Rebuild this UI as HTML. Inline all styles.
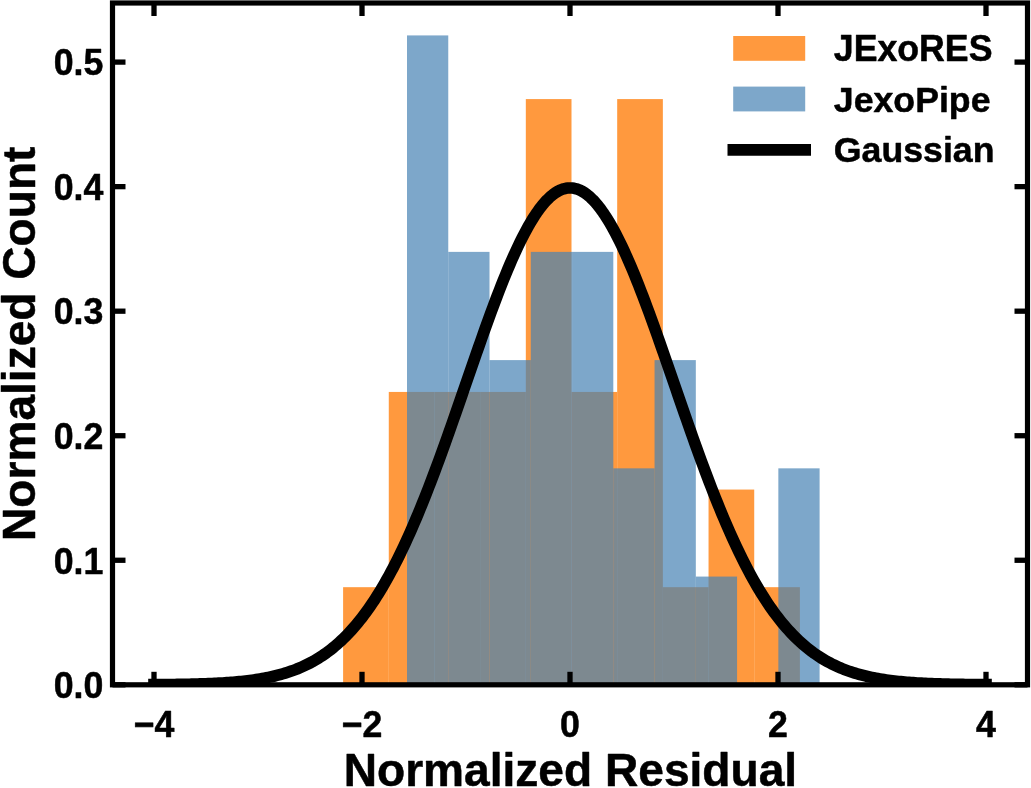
<!DOCTYPE html>
<html lang="en"><head><meta charset="utf-8"><title>Normalized Residual Histogram</title>
<style>html,body{margin:0;padding:0;background:#fff}body{width:1031px;height:788px;overflow:hidden}svg{display:block}text{font-family:"Liberation Sans",Arial,Helvetica,sans-serif;font-weight:bold;fill:#000;stroke:#000;stroke-width:0.5px;stroke-linejoin:round}</style>
</head><body>
<svg width="1031" height="788" viewBox="0 0 1031 788">
<rect width="1031" height="788" fill="#fff"/>
<defs><clipPath id="ax"><rect x="112.50" y="3.00" width="915.00" height="681.80"/></clipPath></defs>
<g clip-path="url(#ax)">
<g fill="#ff7f0e" fill-opacity="0.8">
<rect x="343.10" y="587.18" width="45.68" height="97.62"/>
<rect x="388.78" y="391.94" width="45.68" height="292.86"/>
<rect x="434.46" y="391.94" width="45.68" height="292.86"/>
<rect x="480.14" y="391.94" width="45.68" height="292.86"/>
<rect x="525.82" y="99.08" width="45.68" height="585.72"/>
<rect x="571.50" y="391.94" width="45.68" height="292.86"/>
<rect x="617.18" y="99.08" width="45.68" height="585.72"/>
<rect x="662.86" y="587.18" width="45.68" height="97.62"/>
<rect x="708.54" y="489.56" width="45.68" height="195.24"/>
<rect x="754.22" y="587.18" width="45.68" height="97.62"/>
</g>
<g fill="#4682b4" fill-opacity="0.7">
<rect x="407.00" y="35.42" width="41.26" height="649.38"/>
<rect x="448.26" y="251.88" width="41.26" height="432.92"/>
<rect x="489.52" y="360.11" width="41.26" height="324.69"/>
<rect x="530.78" y="251.88" width="41.26" height="432.92"/>
<rect x="572.04" y="251.88" width="41.26" height="432.92"/>
<rect x="613.30" y="468.34" width="41.26" height="216.46"/>
<rect x="654.56" y="360.11" width="41.26" height="324.69"/>
<rect x="695.82" y="576.57" width="41.26" height="108.23"/>
<rect x="778.34" y="468.34" width="41.26" height="216.46"/>
</g>
<polyline points="154.00,684.63 156.08,684.62 158.16,684.60 160.24,684.59 162.32,684.57 164.40,684.55 166.48,684.53 168.56,684.51 170.64,684.49 172.72,684.46 174.80,684.44 176.88,684.41 178.96,684.38 181.04,684.34 183.12,684.31 185.20,684.27 187.28,684.23 189.36,684.19 191.44,684.14 193.52,684.09 195.60,684.04 197.68,683.98 199.76,683.92 201.84,683.86 203.92,683.79 206.00,683.71 208.08,683.63 210.16,683.55 212.24,683.46 214.32,683.37 216.40,683.27 218.48,683.16 220.56,683.04 222.64,682.92 224.72,682.79 226.80,682.65 228.88,682.51 230.96,682.35 233.04,682.19 235.12,682.02 237.20,681.83 239.28,681.64 241.36,681.43 243.44,681.21 245.52,680.98 247.60,680.73 249.68,680.47 251.76,680.20 253.84,679.91 255.92,679.60 258.00,679.28 260.08,678.94 262.16,678.58 264.24,678.20 266.32,677.81 268.40,677.39 270.48,676.95 272.56,676.48 274.64,675.99 276.72,675.48 278.80,674.94 280.88,674.38 282.96,673.78 285.04,673.16 287.12,672.51 289.20,671.82 291.28,671.10 293.36,670.35 295.44,669.57 297.52,668.74 299.60,667.88 301.68,666.98 303.76,666.04 305.84,665.06 307.92,664.04 310.00,662.97 312.08,661.86 314.16,660.69 316.24,659.48 318.32,658.22 320.40,656.91 322.48,655.54 324.56,654.12 326.64,652.65 328.72,651.11 330.80,649.52 332.88,647.87 334.96,646.15 337.04,644.37 339.12,642.53 341.20,640.62 343.28,638.64 345.36,636.59 347.44,634.48 349.52,632.29 351.60,630.02 353.68,627.68 355.76,625.27 357.84,622.78 359.92,620.21 362.00,617.56 364.08,614.83 366.16,612.02 368.24,609.12 370.32,606.14 372.40,603.08 374.48,599.93 376.56,596.70 378.64,593.38 380.72,589.97 382.80,586.48 384.88,582.89 386.96,579.22 389.04,575.46 391.12,571.61 393.20,567.67 395.28,563.64 397.36,559.53 399.44,555.33 401.52,551.04 403.60,546.66 405.68,542.20 407.76,537.65 409.84,533.01 411.92,528.30 414.00,523.50 416.08,518.62 418.16,513.66 420.24,508.63 422.32,503.51 424.40,498.33 426.48,493.07 428.56,487.75 430.64,482.35 432.72,476.90 434.80,471.38 436.88,465.80 438.96,460.17 441.04,454.48 443.12,448.74 445.20,442.96 447.28,437.14 449.36,431.27 451.44,425.37 453.52,419.44 455.60,413.49 457.68,407.51 459.76,401.51 461.84,395.50 463.92,389.48 466.00,383.45 468.08,377.42 470.16,371.40 472.24,365.39 474.32,359.39 476.40,353.42 478.48,347.47 480.56,341.55 482.64,335.66 484.72,329.82 486.80,324.02 488.88,318.27 490.96,312.58 493.04,306.96 495.12,301.40 497.20,295.92 499.28,290.52 501.36,285.20 503.44,279.97 505.52,274.83 507.60,269.80 509.68,264.88 511.76,260.06 513.84,255.36 515.92,250.79 518.00,246.34 520.08,242.02 522.16,237.84 524.24,233.80 526.32,229.90 528.40,226.16 530.48,222.56 532.56,219.13 534.64,215.86 536.72,212.76 538.80,209.82 540.88,207.06 542.96,204.47 545.04,202.06 547.12,199.84 549.20,197.80 551.28,195.94 553.36,194.28 555.44,192.80 557.52,191.52 559.60,190.44 561.68,189.54 563.76,188.85 565.84,188.35 567.92,188.06 570.00,187.96 572.08,188.06 574.16,188.35 576.24,188.85 578.32,189.54 580.40,190.44 582.48,191.52 584.56,192.80 586.64,194.28 588.72,195.94 590.80,197.80 592.88,199.84 594.96,202.06 597.04,204.47 599.12,207.06 601.20,209.82 603.28,212.76 605.36,215.86 607.44,219.13 609.52,222.56 611.60,226.16 613.68,229.90 615.76,233.80 617.84,237.84 619.92,242.02 622.00,246.34 624.08,250.79 626.16,255.36 628.24,260.06 630.32,264.88 632.40,269.80 634.48,274.83 636.56,279.97 638.64,285.20 640.72,290.52 642.80,295.92 644.88,301.40 646.96,306.96 649.04,312.58 651.12,318.27 653.20,324.02 655.28,329.82 657.36,335.66 659.44,341.55 661.52,347.47 663.60,353.42 665.68,359.39 667.76,365.39 669.84,371.40 671.92,377.42 674.00,383.45 676.08,389.48 678.16,395.50 680.24,401.51 682.32,407.51 684.40,413.49 686.48,419.44 688.56,425.37 690.64,431.27 692.72,437.14 694.80,442.96 696.88,448.74 698.96,454.48 701.04,460.17 703.12,465.80 705.20,471.38 707.28,476.90 709.36,482.35 711.44,487.75 713.52,493.07 715.60,498.33 717.68,503.51 719.76,508.63 721.84,513.66 723.92,518.62 726.00,523.50 728.08,528.30 730.16,533.01 732.24,537.65 734.32,542.20 736.40,546.66 738.48,551.04 740.56,555.33 742.64,559.53 744.72,563.64 746.80,567.67 748.88,571.61 750.96,575.46 753.04,579.22 755.12,582.89 757.20,586.48 759.28,589.97 761.36,593.38 763.44,596.70 765.52,599.93 767.60,603.08 769.68,606.14 771.76,609.12 773.84,612.02 775.92,614.83 778.00,617.56 780.08,620.21 782.16,622.78 784.24,625.27 786.32,627.68 788.40,630.02 790.48,632.29 792.56,634.48 794.64,636.59 796.72,638.64 798.80,640.62 800.88,642.53 802.96,644.37 805.04,646.15 807.12,647.87 809.20,649.52 811.28,651.11 813.36,652.65 815.44,654.12 817.52,655.54 819.60,656.91 821.68,658.22 823.76,659.48 825.84,660.69 827.92,661.86 830.00,662.97 832.08,664.04 834.16,665.06 836.24,666.04 838.32,666.98 840.40,667.88 842.48,668.74 844.56,669.57 846.64,670.35 848.72,671.10 850.80,671.82 852.88,672.51 854.96,673.16 857.04,673.78 859.12,674.38 861.20,674.94 863.28,675.48 865.36,675.99 867.44,676.48 869.52,676.95 871.60,677.39 873.68,677.81 875.76,678.20 877.84,678.58 879.92,678.94 882.00,679.28 884.08,679.60 886.16,679.91 888.24,680.20 890.32,680.47 892.40,680.73 894.48,680.98 896.56,681.21 898.64,681.43 900.72,681.64 902.80,681.83 904.88,682.02 906.96,682.19 909.04,682.35 911.12,682.51 913.20,682.65 915.28,682.79 917.36,682.92 919.44,683.04 921.52,683.16 923.60,683.27 925.68,683.37 927.76,683.46 929.84,683.55 931.92,683.63 934.00,683.71 936.08,683.79 938.16,683.86 940.24,683.92 942.32,683.98 944.40,684.04 946.48,684.09 948.56,684.14 950.64,684.19 952.72,684.23 954.80,684.27 956.88,684.31 958.96,684.34 961.04,684.38 963.12,684.41 965.20,684.44 967.28,684.46 969.36,684.49 971.44,684.51 973.52,684.53 975.60,684.55 977.68,684.57 979.76,684.59 981.84,684.60 983.92,684.62 986.00,684.63" fill="none" stroke="#000" stroke-width="11.6" stroke-linecap="square" stroke-linejoin="round"/>
</g>
<g stroke="#000" stroke-width="5.30" stroke-linecap="butt">
<line x1="154.00" y1="684.80" x2="154.00" y2="671.80"/>
<line x1="154.00" y1="3.00" x2="154.00" y2="16.00"/>
<line x1="362.00" y1="684.80" x2="362.00" y2="671.80"/>
<line x1="362.00" y1="3.00" x2="362.00" y2="16.00"/>
<line x1="570.00" y1="684.80" x2="570.00" y2="671.80"/>
<line x1="570.00" y1="3.00" x2="570.00" y2="16.00"/>
<line x1="778.00" y1="684.80" x2="778.00" y2="671.80"/>
<line x1="778.00" y1="3.00" x2="778.00" y2="16.00"/>
<line x1="986.00" y1="684.80" x2="986.00" y2="671.80"/>
<line x1="986.00" y1="3.00" x2="986.00" y2="16.00"/>
<line x1="112.50" y1="684.80" x2="125.50" y2="684.80"/>
<line x1="1027.50" y1="684.80" x2="1014.50" y2="684.80"/>
<line x1="112.50" y1="560.26" x2="125.50" y2="560.26"/>
<line x1="1027.50" y1="560.26" x2="1014.50" y2="560.26"/>
<line x1="112.50" y1="435.72" x2="125.50" y2="435.72"/>
<line x1="1027.50" y1="435.72" x2="1014.50" y2="435.72"/>
<line x1="112.50" y1="311.18" x2="125.50" y2="311.18"/>
<line x1="1027.50" y1="311.18" x2="1014.50" y2="311.18"/>
<line x1="112.50" y1="186.64" x2="125.50" y2="186.64"/>
<line x1="1027.50" y1="186.64" x2="1014.50" y2="186.64"/>
<line x1="112.50" y1="62.10" x2="125.50" y2="62.10"/>
<line x1="1027.50" y1="62.10" x2="1014.50" y2="62.10"/>
</g>
<rect x="112.50" y="3.00" width="915.00" height="681.80" fill="none" stroke="#000" stroke-width="5.20"/>
<text transform="translate(154.00 736.50) scale(1 1.040)" font-size="35.7" text-anchor="middle">−4</text>
<text transform="translate(362.00 736.50) scale(1 1.040)" font-size="35.7" text-anchor="middle">−2</text>
<text transform="translate(570.00 736.50) scale(1 1.040)" font-size="35.7" text-anchor="middle">0</text>
<text transform="translate(778.00 736.50) scale(1 1.040)" font-size="35.7" text-anchor="middle">2</text>
<text transform="translate(986.00 736.50) scale(1 1.040)" font-size="35.7" text-anchor="middle">4</text>
<text transform="translate(103.30 698.10) scale(1 1.040)" font-size="35.7" text-anchor="end">0.0</text>
<text transform="translate(103.30 573.56) scale(1 1.040)" font-size="35.7" text-anchor="end">0.1</text>
<text transform="translate(103.30 449.02) scale(1 1.040)" font-size="35.7" text-anchor="end">0.2</text>
<text transform="translate(103.30 324.48) scale(1 1.040)" font-size="35.7" text-anchor="end">0.3</text>
<text transform="translate(103.30 199.94) scale(1 1.040)" font-size="35.7" text-anchor="end">0.4</text>
<text transform="translate(103.30 75.40) scale(1 1.040)" font-size="35.7" text-anchor="end">0.5</text>
<text transform="translate(570.40 786.40) scale(1 0.985)" font-size="46.1" text-anchor="middle">Normalized Residual</text>
<text transform="translate(34.60 343.80) rotate(-90) scale(1 0.985)" font-size="46.1" text-anchor="middle">Normalized Count</text>
<rect x="733.2" y="36" width="72" height="24.8" fill="#ff7f0e" fill-opacity="0.8"/>
<rect x="733.2" y="86.6" width="72" height="24.8" fill="#4682b4" fill-opacity="0.7"/>
<line x1="733.3" y1="149.9" x2="805.2" y2="149.9" stroke="#000" stroke-width="11.6" stroke-linecap="square"/>
<text transform="translate(833.80 60.80) scale(1 1.040)" font-size="35.7" text-anchor="start">JExoRES</text>
<text transform="translate(833.80 111.50) scale(1 1.000)" font-size="35.7" text-anchor="start">JexoPipe</text>
<text transform="translate(833.80 162.00) scale(1 0.990)" font-size="35.7" text-anchor="start">Gaussian</text>
</svg></body></html>
